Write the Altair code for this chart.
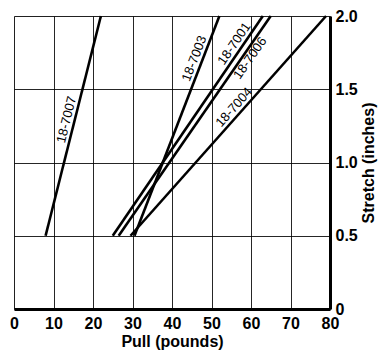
import math
import altair as alt
import pandas as pd

# ---- data ----
names = ["18-7007", "18-7003", "18-7001", "18-7006", "18-7004"]
pull_start = [8.0, 30.5, 25.0, 26.5, 29.5]
pull_end = [22.0, 52.0, 63.0, 65.0, 79.0]
stretch_start = [0.5, 0.5, 0.5, 0.5, 0.5]
stretch_end = [2.0, 2.0, 2.0, 2.0, 2.0]
label_at = [1.28, 1.69, 1.78, 1.74, 1.34]      # stretch value where each label sits
label_side = ["above", "above", "above", "below", "above"]

x_ticks = [0, 10, 20, 30, 40, 50, 60, 70, 80]
y_ticks = [0, 0.5, 1.0, 1.5, 2.0]

W, H = 316, 293
XMAX, YMAX = 80, 2.0

rows = []
for n, x0, x1, y0, y1 in zip(names, pull_start, pull_end, stretch_start, stretch_end):
    rows.append({"name": n, "pull": x0, "stretch": y0})
    rows.append({"name": n, "pull": x1, "stretch": y1})
lines_df = pd.DataFrame(rows)

lab = []
for n, x0, x1, y0, y1, at, side in zip(names, pull_start, pull_end, stretch_start,
                                       stretch_end, label_at, label_side):
    xx = x0 + (at - y0) * (x1 - x0) / (y1 - y0)
    ang = math.degrees(math.atan2((y1 - y0) * H / YMAX, (x1 - x0) * W / XMAX))
    lab.append({"name": n, "pull": xx, "stretch": at, "angle": 360 - ang, "side": side})
lab_df = pd.DataFrame(lab)

FONT = "Liberation Sans, Arial, sans-serif"

xs = alt.Scale(domain=[0, XMAX], nice=False, zero=False)
ys = alt.Scale(domain=[0, YMAX], nice=False, zero=False)

x_axis = alt.Axis(values=x_ticks, title="Pull (pounds)", grid=True, gridColor="black",
                  gridWidth=1, gridOpacity=0.85, ticks=False, domainColor="black",
                  domainWidth=3, labelFont=FONT, labelFontSize=16, labelFontWeight="bold",
                  labelColor="black", labelPadding=6, labelOverlap=False,
                  titleFont=FONT, titleFontSize=16,
                  titleFontWeight="bold", titleColor="black", titlePadding=2,
                  labelFlush=False)
y_axis = alt.Axis(values=y_ticks, orient="right", title="Stretch (inches)", grid=True,
                  gridColor="black", gridWidth=1, gridOpacity=0.85, ticks=False,
                  domainColor="black", domainWidth=3, labelFont=FONT, labelFontSize=16,
                  labelFontWeight="bold", labelColor="black", labelPadding=5,
                  labelOverlap=False,
                  labelExpr="datum.value == 0 ? '0' : format(datum.value, '.1f')",
                  titleFont=FONT, titleFontSize=16, titleFontWeight="bold",
                  titleColor="black", titleAngle=270, titleBaseline="top",
                  titlePadding=3, labelFlush=False)

lines = alt.Chart(lines_df).mark_line(color="black", strokeWidth=2.6).encode(
    x=alt.X("pull:Q", scale=xs, axis=x_axis),
    y=alt.Y("stretch:Q", scale=ys, axis=y_axis),
    detail="name:N",
)

def labels(side, dy):
    return alt.Chart(lab_df).transform_filter(alt.datum.side == side).mark_text(
        font=FONT, fontSize=13, color="black", dy=dy, baseline="middle", align="center"
    ).encode(
        x=alt.X("pull:Q", scale=xs, axis=x_axis),
        y=alt.Y("stretch:Q", scale=ys, axis=y_axis),
        angle=alt.Angle("angle:Q", scale=None),
        text="name:N",
    )

chart = alt.layer(lines, labels("above", -8), labels("below", 7)).properties(
    width=W, height=H,
    autosize=alt.AutoSizeParams(type="none"),
    padding={"left": 6, "top": 8, "right": 50, "bottom": 45},
).configure_view(stroke="black", strokeWidth=3).configure(background="white")

chart.save("out.html", embed_options={"renderer": "svg", "actions": False})
